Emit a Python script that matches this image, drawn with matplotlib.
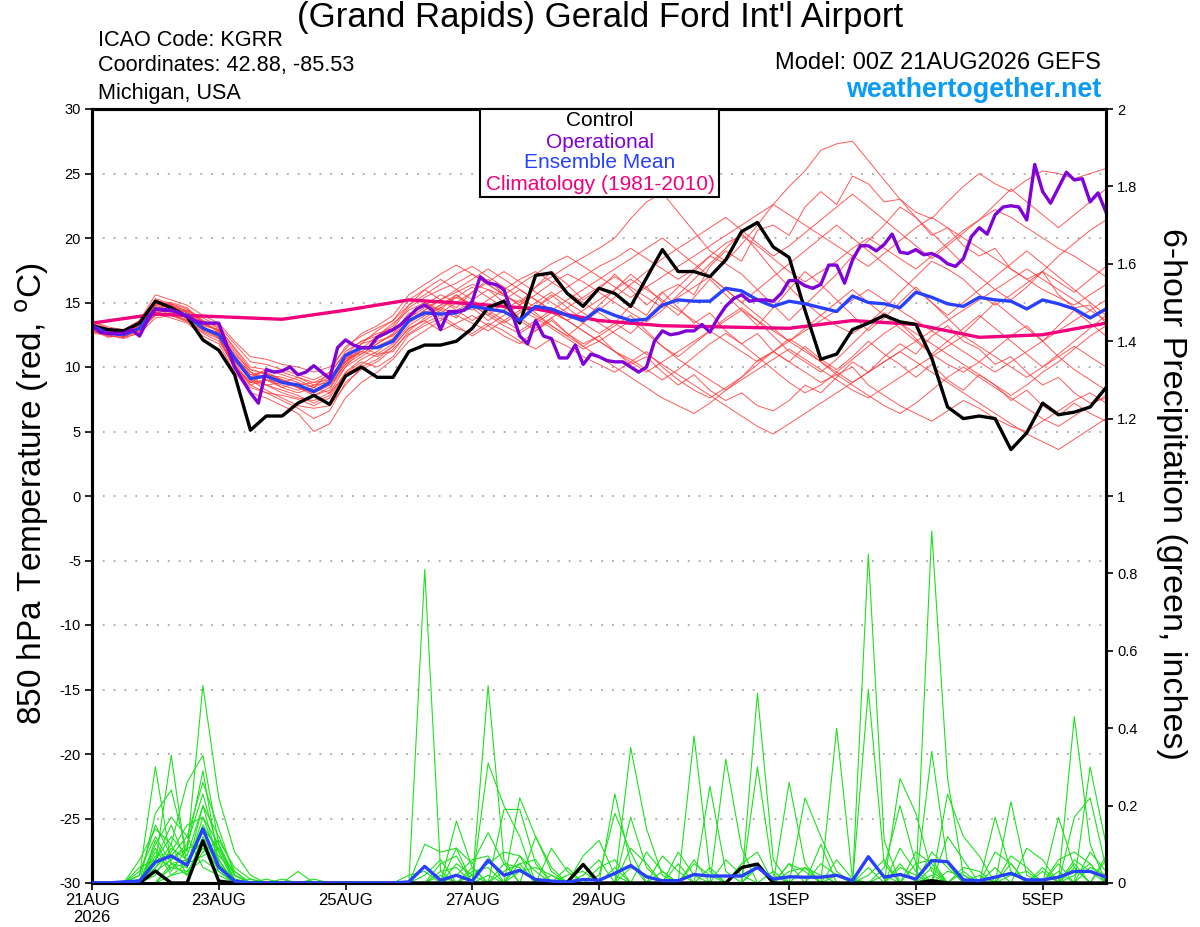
# gefs_meteogram_kgrr.py
# Usage: python gefs_meteogram_kgrr.py

import numpy as np
import matplotlib
matplotlib.use("Agg")
import matplotlib.pyplot as plt
from matplotlib.patches import Rectangle
from matplotlib.ticker import FixedLocator, FixedFormatter

# =========================================================
# DATA (6-hourly from 00Z 21AUG, i = 0..64; operational 3-hourly)
# =========================================================
control_t = [13.2, 12.9, 12.8, 13.4, 15.1, 14.6, 13.9, 12.1, 11.3,
             9.4, 5.1, 6.2, 6.2, 7.2, 7.8, 7.1, 9.3, 10.0, 9.2, 9.2,
             11.2, 11.7, 11.7, 12.0, 13.0, 14.6, 15.1, 13.4, 17.1, 17.3, 15.7, 14.7, 16.1,
             15.7, 14.7, 16.9, 19.1, 17.4, 17.4, 17.0, 18.3, 20.5, 21.2, 19.3, 18.5,
             14.4, 10.6, 11.0, 12.9, 13.4, 14.0, 13.5, 13.3, 10.7, 6.9, 6.0, 6.2,
             6.0, 3.6, 4.9, 7.2, 6.3, 6.5, 6.9, 8.4]

mean_t = [13.2, 12.6, 12.5, 13.0, 14.5, 14.4, 14.0, 13.0, 12.5,
          10.7, 9.1, 9.3, 8.8, 8.6, 8.1, 8.8, 10.9, 11.5, 11.5, 12.0,
          13.6, 14.2, 14.1, 14.2, 14.7, 14.5, 14.3, 13.6, 14.7, 14.5, 14.0, 13.6, 14.5,
          14.0, 13.6, 13.7, 14.8, 15.2, 15.1, 15.1, 16.1, 15.9, 15.2, 14.7, 15.1,
          14.9, 14.6, 14.3, 15.5, 15.0, 14.9, 14.6, 15.8, 15.4, 14.9, 14.7, 15.4,
          15.2, 15.1, 14.5, 15.2, 14.9, 14.5, 13.8, 14.5]

oper_t = [13.2, 12.7, 12.6, 12.6, 12.6, 12.9, 12.4, 13.6, 14.5, 14.4,
          14.4, 14.2, 13.9, 13.6, 13.4, 13.4, 13.4, 11.7, 10.0, 9.0,
          8.0, 7.2, 9.8, 9.6, 9.7, 10.0, 9.4, 9.6, 10.1, 9.6,
          9.1, 11.5, 12.1, 11.7, 11.5, 11.5, 12.3, 12.6, 12.9, 13.3,
          13.9, 14.5, 14.8, 14.4, 12.9, 14.3, 14.3, 14.4, 15.1, 17.0,
          16.5, 16.4, 16.0, 14.2, 12.4, 11.8, 13.6, 12.4, 12.2, 10.7,
          10.7, 11.7, 10.2, 11.0, 10.8, 10.5, 10.4, 10.4, 10.0, 9.6,
          10.0, 12.0, 12.8, 12.5, 12.6, 12.8, 12.8, 13.3, 12.7, 13.8,
          14.7, 15.3, 15.6, 15.1, 15.2, 15.2, 15.1, 15.7, 16.7, 16.7,
          16.3, 16.1, 16.4, 17.9, 17.9, 16.5, 18.3, 19.4, 19.4, 19.0,
          19.5, 20.3, 18.9, 18.8, 19.1, 18.7, 18.8, 18.5, 18.0, 17.8,
          18.4, 20.1, 20.8, 20.3, 21.8, 22.4, 22.5, 22.4, 21.4, 25.7,
          23.6, 22.7, 23.9, 25.1, 24.5, 24.6, 22.8, 23.5, 22.0]

clim_days = [0, 1, 2, 3, 4, 5, 6, 7, 8, 9, 10, 11, 12, 13, 14, 15, 16]
clim_t = [13.4, 14.1, 13.9, 13.7, 14.4, 15.2, 14.9, 14.5, 13.6,
          13.2, 13.1, 13.0, 13.6, 13.3, 12.3, 12.5, 13.4]

# ensemble members, 850 hPa temperature
t_m01 = [13.0, 12.8, 12.4, 13.3, 15.0, 14.7, 14.2, 13.5, 12.8,
         11.0, 9.8, 9.5, 9.0, 8.4, 8.0, 8.6, 10.2, 11.0, 11.8, 12.5,
         13.8, 14.6, 15.2, 15.8, 16.4, 16.0, 15.5, 15.0, 16.2, 17.0, 17.8, 18.5, 19.2,
         20.0, 21.5, 22.8, 23.5, 22.0, 20.5, 19.0, 18.2, 19.5, 21.0, 22.6, 24.0, 25.2, 26.8, 27.3,
         27.5, 26.0, 24.5, 23.0, 22.0, 21.5, 22.8, 24.0, 25.0, 24.2, 23.6, 24.5, 25.2, 25.0, 24.6, 25.0, 25.4]
t_m02 = [13.4, 12.9, 12.7, 12.8, 14.2, 14.8, 14.3, 13.2, 12.2,
         10.2, 8.6, 8.0, 7.8, 7.5, 7.0, 7.6, 9.5, 10.4, 10.0, 10.8,
         12.5, 13.2, 13.8, 13.0, 12.6, 13.4, 12.8, 12.0, 11.4, 12.2, 11.6, 10.8, 10.2,
         9.6, 10.4, 11.2, 10.0, 9.0, 8.2, 7.6, 8.4, 9.2, 10.5, 11.2, 10.4, 9.6, 8.8, 9.4,
         10.0, 8.6, 7.8, 7.0, 6.4, 5.8, 6.6, 7.4, 6.8, 6.0, 5.4, 5.0, 5.8, 6.6, 7.4, 8.0, 7.2]
t_m03 = [13.1, 12.5, 12.6, 13.5, 15.3, 14.9, 14.5, 13.6, 13.0,
         11.5, 10.0, 9.8, 9.6, 9.2, 8.8, 9.4, 11.2, 12.0, 12.6, 13.0,
         14.6, 15.4, 16.0, 16.5, 17.2, 16.4, 15.6, 14.8, 15.6, 16.5, 17.2, 16.6, 15.8,
         15.0, 14.2, 13.5, 14.4, 15.6, 16.8, 18.0, 19.2, 20.4, 19.0, 17.5, 16.2, 15.0, 14.0, 13.2,
         12.6, 13.4, 14.5, 15.8, 17.0, 18.2, 17.6, 16.8, 15.6, 14.8, 15.6, 16.5, 17.4, 16.6, 15.8, 16.8, 17.8]
t_m04 = [12.8, 12.4, 12.3, 12.9, 14.0, 14.1, 13.6, 12.6, 12.0,
         10.0, 8.8, 9.0, 8.4, 8.8, 7.8, 8.2, 10.6, 11.2, 10.8, 11.6,
         13.0, 13.6, 12.8, 13.4, 14.0, 13.2, 12.4, 11.8, 12.8, 13.6, 12.6, 11.6, 12.4,
         13.2, 14.0, 12.8, 11.6, 10.8, 11.8, 12.8, 13.8, 14.6, 13.6, 12.4, 11.2, 10.4, 9.6, 10.6,
         11.8, 13.0, 14.2, 13.4, 12.2, 11.0, 10.2, 9.6, 10.4, 11.4, 12.4, 13.2, 12.0, 10.8, 9.8, 9.0, 8.2]
t_m05 = [13.5, 13.0, 12.8, 13.2, 14.6, 14.2, 13.8, 13.0, 12.6,
         10.6, 9.4, 9.6, 9.0, 8.6, 8.8, 9.0, 10.4, 11.8, 12.2, 12.8,
         14.0, 14.8, 15.6, 15.0, 14.4, 15.2, 16.0, 16.8, 17.4, 16.6, 15.8, 15.0, 14.2,
         13.4, 12.6, 13.8, 15.0, 16.2, 17.4, 18.6, 18.0, 17.2, 16.0, 14.8, 13.6, 14.8, 16.0, 17.2,
         18.6, 19.8, 21.0, 22.4, 21.6, 20.4, 19.2, 18.0, 17.0, 16.0, 15.2, 16.2, 17.4, 18.6, 19.6, 20.6, 21.4]
t_m06 = [13.0, 12.7, 12.6, 13.1, 14.8, 15.0, 14.6, 13.4, 12.8,
         10.8, 9.0, 8.6, 8.2, 7.8, 7.2, 7.8, 9.6, 10.6, 11.2, 12.2,
         13.4, 14.2, 14.8, 15.4, 14.8, 14.0, 13.2, 12.6, 13.4, 14.2, 13.6, 12.8, 12.0,
         11.2, 10.6, 9.8, 9.0, 9.8, 10.8, 11.8, 12.6, 11.8, 10.8, 9.8, 8.8, 8.0, 8.6, 9.6,
         10.6, 11.6, 12.6, 13.4, 12.6, 11.8, 11.0, 10.2, 9.4, 8.6, 7.8, 8.6, 9.6, 10.4, 11.4, 12.4, 13.2]
t_m07 = [13.3, 12.6, 12.4, 12.8, 14.4, 14.6, 14.4, 13.8, 13.2,
         11.8, 10.4, 10.2, 9.8, 9.4, 9.0, 9.6, 11.0, 12.0, 12.4, 13.2,
         14.8, 15.6, 16.4, 17.2, 17.8, 17.0, 16.2, 15.4, 14.6, 15.4, 16.2, 17.0, 17.8,
         18.4, 19.2, 18.4, 17.6, 16.8, 17.6, 18.6, 19.6, 20.2, 19.4, 18.4, 17.4, 16.6, 17.4, 18.2,
         19.2, 20.0, 19.2, 18.4, 17.6, 18.6, 19.6, 20.6, 21.4, 22.2, 21.6, 20.8, 20.0, 19.2, 18.6, 17.8, 17.0]
t_m08 = [12.9, 12.3, 12.5, 13.4, 14.9, 14.5, 13.9, 12.8, 12.3,
         9.8, 8.4, 8.0, 7.4, 6.8, 6.0, 6.6, 8.8, 9.8, 10.4, 11.4,
         12.6, 13.4, 14.0, 13.2, 12.4, 13.2, 14.0, 14.8, 14.0, 13.2, 12.4, 11.6, 10.8,
         10.0, 9.2, 8.4, 7.6, 7.0, 6.4, 7.2, 8.2, 9.2, 10.2, 11.2, 12.2, 11.4, 10.4, 9.4,
         8.6, 7.8, 7.0, 6.4, 7.2, 8.2, 9.2, 10.0, 9.2, 8.4, 7.6, 6.8, 6.0, 5.4, 6.2, 7.0, 7.8]
t_m09 = [13.2, 12.8, 12.9, 13.6, 15.6, 15.2, 14.8, 14.0, 13.4,
         12.0, 10.8, 10.6, 10.2, 10.0, 9.6, 10.0, 11.4, 12.6, 13.2, 14.0,
         15.6, 16.4, 17.2, 17.9, 17.2, 16.4, 15.6, 16.4, 17.2, 18.0, 18.6, 17.8, 17.0,
         16.2, 15.4, 16.2, 17.0, 17.8, 18.6, 19.4, 20.2, 21.0, 21.8, 22.6, 21.8, 21.0, 20.2, 19.4,
         18.6, 17.8, 18.8, 19.8, 20.8, 21.6, 20.8, 20.0, 19.2, 18.4, 17.6, 16.8, 16.0, 15.4, 14.8, 15.6, 16.4]
t_m10 = [13.1, 12.5, 12.2, 12.7, 14.1, 13.8, 13.4, 12.4, 11.8,
         9.6, 8.0, 7.6, 7.0, 6.4, 5.0, 5.6, 7.6, 8.8, 9.6, 10.6,
         12.0, 12.8, 13.6, 14.4, 15.0, 14.2, 13.4, 14.2, 15.0, 15.8, 15.0, 14.2, 13.4,
         12.6, 11.8, 11.0, 10.2, 9.4, 8.6, 7.8, 7.0, 6.2, 5.4, 4.8, 5.6, 6.4, 7.2, 8.0,
         8.8, 9.6, 10.4, 11.2, 10.4, 9.6, 8.8, 8.0, 7.2, 6.4, 5.6, 4.8, 4.2, 3.6, 4.4, 5.2, 6.0]
t_m11 = [13.4, 12.7, 12.6, 13.0, 14.3, 14.0, 13.7, 13.0, 12.7,
         10.4, 9.2, 9.8, 9.4, 9.0, 8.4, 8.0, 10.0, 11.4, 11.6, 12.0,
         13.8, 15.0, 14.4, 13.8, 15.2, 16.0, 15.0, 13.8, 14.6, 15.6, 14.6, 13.6, 14.8,
         16.0, 17.2, 16.2, 15.0, 14.0, 15.4, 16.8, 15.6, 14.4, 13.2, 14.6, 16.0, 17.4, 16.4, 15.2,
         14.0, 12.8, 13.8, 15.0, 16.2, 15.0, 13.8, 12.6, 13.8, 15.0, 14.0, 13.0, 12.0, 13.2, 14.4, 13.4, 12.4]
t_m12 = [12.7, 12.6, 12.7, 13.2, 14.7, 14.3, 14.1, 13.3, 12.9,
         11.2, 9.6, 9.0, 8.6, 8.2, 8.6, 9.2, 10.8, 11.0, 11.8, 12.6,
         14.2, 14.0, 14.8, 15.6, 14.6, 13.6, 14.4, 15.2, 14.2, 13.2, 12.4, 13.4, 14.4,
         15.4, 16.4, 17.4, 18.4, 19.2, 20.0, 20.8, 21.6, 20.6, 19.6, 18.6, 19.4, 20.4, 21.4, 22.4,
         23.4, 22.4, 21.4, 20.4, 19.4, 18.4, 19.4, 20.4, 21.4, 22.6, 23.8, 22.8, 21.8, 20.8, 21.8, 22.8, 23.8]
t_m13 = [13.0, 12.9, 12.8, 13.6, 15.2, 14.8, 14.0, 12.9, 12.4,
         10.0, 8.8, 8.6, 8.0, 7.6, 7.4, 8.0, 9.4, 10.2, 11.0, 11.8,
         13.2, 14.0, 14.6, 14.0, 13.4, 12.8, 13.6, 14.4, 13.8, 13.0, 12.2, 11.4, 12.0,
         12.8, 13.6, 12.6, 11.6, 10.6, 9.8, 9.0, 8.2, 9.0, 9.8, 10.6, 11.4, 10.6, 9.8, 9.0,
         8.2, 7.6, 8.4, 9.2, 10.0, 10.8, 11.6, 12.4, 11.6, 10.8, 10.0, 9.2, 10.0, 10.8, 11.6, 10.8, 10.0]
t_m14 = [13.2, 12.4, 12.3, 12.6, 13.8, 14.0, 13.5, 12.9, 12.6,
         10.9, 9.4, 9.2, 9.0, 8.4, 8.0, 8.6, 10.2, 11.6, 11.0, 11.2,
         12.8, 13.8, 14.6, 15.4, 16.2, 15.4, 14.6, 13.8, 13.0, 13.8, 14.6, 15.4, 16.2,
         17.0, 16.2, 15.4, 14.6, 15.4, 16.2, 17.0, 16.0, 15.0, 14.0, 13.0, 12.0, 13.0, 14.0, 15.0,
         16.0, 15.0, 14.0, 13.0, 12.0, 11.0, 12.0, 13.0, 14.0, 13.0, 12.0, 11.0, 10.0, 11.0, 12.0, 13.0, 14.0]
t_m15 = [13.6, 13.1, 12.9, 13.4, 15.0, 14.6, 14.2, 13.6, 13.1,
         11.4, 9.8, 9.4, 9.2, 8.8, 8.4, 9.6, 11.6, 12.4, 13.0, 13.6,
         15.2, 16.0, 16.8, 16.0, 15.2, 14.4, 13.6, 12.8, 13.6, 14.4, 15.2, 16.0, 16.8,
         17.6, 18.4, 19.2, 20.0, 19.0, 18.0, 17.0, 16.0, 15.0, 16.0, 17.0, 18.0, 19.0, 20.0, 21.0,
         20.0, 19.0, 18.0, 17.0, 16.0, 15.0, 14.0, 15.0, 16.0, 17.0, 18.0, 19.0, 18.0, 17.0, 16.0, 15.0, 14.0]
t_m16 = [12.9, 12.6, 12.4, 13.0, 14.5, 14.9, 14.3, 13.1, 12.5,
         10.3, 8.8, 9.4, 9.0, 8.6, 8.2, 8.8, 10.4, 11.2, 12.0, 12.4,
         13.6, 14.4, 15.2, 14.4, 13.6, 14.4, 15.2, 16.0, 15.2, 14.4, 13.6, 12.8, 12.0,
         11.2, 10.4, 9.6, 10.4, 11.2, 12.0, 12.8, 13.6, 14.4, 13.6, 12.8, 12.0, 11.2, 10.4, 9.6,
         8.8, 9.6, 10.4, 11.2, 12.0, 12.8, 13.6, 14.4, 15.2, 16.0, 16.8, 17.6, 16.8, 16.0, 15.2, 14.4, 13.6]
t_m17 = [13.3, 12.8, 12.7, 13.3, 14.2, 14.5, 14.0, 13.2, 12.9,
         10.6, 9.2, 8.6, 8.8, 8.4, 7.8, 8.4, 10.0, 10.8, 11.6, 12.2,
         13.6, 14.4, 15.2, 16.0, 16.8, 17.6, 16.8, 16.0, 15.2, 14.4, 13.6, 14.4, 15.2,
         16.0, 16.8, 16.0, 15.2, 14.4, 13.6, 12.8, 12.0, 11.2, 10.4, 11.2, 12.0, 12.8, 13.6, 14.4,
         15.2, 16.0, 15.2, 14.4, 13.6, 12.8, 12.0, 11.2, 10.4, 9.6, 10.4, 11.2, 12.0, 12.8, 13.6, 14.4, 15.2]
t_m18 = [13.1, 12.6, 12.6, 13.1, 14.8, 14.4, 13.9, 13.1, 12.6,
         10.8, 9.6, 9.2, 8.4, 8.0, 8.4, 9.0, 10.4, 11.4, 12.4, 13.4,
         14.4, 15.0, 14.2, 15.0, 15.8, 16.6, 17.4, 16.6, 15.8, 15.0, 14.2, 13.4, 12.6,
         13.4, 14.8, 14.0, 15.8, 16.4, 15.6, 17.8, 19.0, 18.2, 20.6, 21.0, 20.2, 22.4, 23.6, 22.6,
         24.8, 24.2, 22.8, 23.0, 21.6, 20.2, 20.8, 19.4, 18.6, 19.2, 17.6, 16.8, 17.4, 15.6, 14.6, 14.8, 13.4]
t_m19 = [12.6, 12.5, 12.6, 13.0, 14.0, 14.2, 14.4, 13.5, 12.7,
         10.5, 9.0, 8.2, 7.6, 7.0, 6.8, 7.0, 8.6, 10.0, 10.6, 11.6,
         13.0, 13.6, 14.4, 15.6, 14.8, 14.0, 15.0, 13.6, 12.8, 13.8, 12.6, 11.8, 12.4,
         11.2, 10.2, 10.8, 9.6, 8.6, 9.4, 8.2, 7.4, 8.0, 7.0, 6.6, 7.4, 8.6, 8.0, 9.2,
         10.4, 9.6, 10.8, 11.8, 11.0, 12.4, 13.2, 12.0, 11.4, 10.2, 10.8, 9.6, 8.6, 9.2, 8.0, 7.2, 7.6]
t_m20 = [13.2, 12.9, 12.3, 12.9, 14.6, 14.0, 13.6, 12.7, 12.2,
         9.9, 8.6, 9.0, 8.8, 9.2, 8.6, 8.8, 10.6, 11.8, 12.8, 13.6,
         14.8, 16.0, 15.2, 14.6, 15.8, 16.8, 15.6, 14.8, 16.2, 17.4, 16.4, 15.2, 16.0,
         17.2, 16.0, 14.8, 15.8, 14.6, 13.4, 14.2, 12.8, 11.8, 12.6, 11.2, 10.4, 11.6, 10.6, 9.8,
         10.8, 12.0, 11.0, 10.2, 9.2, 10.2, 9.0, 8.2, 9.4, 8.6, 7.4, 8.2, 7.0, 6.2, 7.2, 6.4, 5.8]

# 6-hour precipitation (inches): control and mean, 65 values
control_p = [0, 0, 0, 0, 0.031, 0, 0, 0.109, 0.005, 0, 0, 0, 0, 0, 0, 0,
             0, 0, 0, 0, 0, 0, 0, 0, 0, 0, 0, 0, 0, 0, 0.002, 0.048, 0,
             0, 0, 0, 0, 0, 0, 0, 0, 0.040, 0.049, 0, 0, 0, 0, 0, 0,
             0, 0, 0, 0, 0.006, 0, 0, 0, 0, 0, 0, 0, 0, 0, 0, 0]
mean_p = [0, 0, 0.003, 0.005, 0.054, 0.070, 0.046, 0.140, 0.041, 0.005, 0, 0, 0, 0, 0, 0,
          0, 0, 0, 0, 0.003, 0.043, 0.007, 0.020, 0.005, 0.059, 0.020, 0.033, 0.009, 0.005, 0.002, 0.009, 0.007,
          0.025, 0.045, 0.016, 0.006, 0.006, 0.022, 0.018, 0.018, 0.018, 0.040, 0.010, 0.016, 0.015, 0.015, 0.020,
          0.006, 0.068, 0.015, 0.022, 0.010, 0.058, 0.055, 0.008, 0.006, 0.015, 0.025, 0.008, 0.008, 0.015, 0.030,
          0.030, 0.015]

# ensemble members, precipitation: {step index: inches}, zero elsewhere
p_m01 = {3: 0.02, 4: 0.30, 5: 0.05, 6: 0.02, 7: 0.12, 8: 0.04, 21: 0.81, 22: 0.03, 27: 0.05,
         33: 0.23, 34: 0.05, 42: 0.05, 49: 0.85, 50: 0.11, 53: 0.02, 62: 0.43, 63: 0.10}
p_m02 = {4: 0.05, 5: 0.33, 6: 0.04, 7: 0.20, 8: 0.05, 25: 0.51, 26: 0.06, 38: 0.38, 39: 0.03,
         53: 0.91, 54: 0.27, 55: 0.02, 58: 0.05}
p_m03 = {4: 0.18, 5: 0.24, 6: 0.08, 7: 0.51, 8: 0.22, 9: 0.08, 10: 0.02, 23: 0.16, 24: 0.04,
         34: 0.35, 35: 0.14, 36: 0.02, 47: 0.40, 48: 0.01, 51: 0.05, 63: 0.30, 64: 0.10}
p_m04 = {3: 0.06, 4: 0.14, 5: 0.10, 6: 0.26, 7: 0.33, 8: 0.10, 25: 0.31, 26: 0.20, 27: 0.12,
         42: 0.49, 43: 0.06, 49: 0.50, 50: 0.05, 57: 0.17, 58: 0.03}
p_m05 = {4: 0.10, 5: 0.17, 6: 0.12, 7: 0.26, 8: 0.14, 9: 0.02, 27: 0.22, 28: 0.12, 29: 0.03,
         40: 0.32, 41: 0.09, 44: 0.26, 45: 0.05, 53: 0.34, 54: 0.05, 61: 0.17, 62: 0.04}
p_m06 = {4: 0.08, 5: 0.06, 6: 0.10, 7: 0.23, 8: 0.08, 21: 0.10, 22: 0.08, 23: 0.09, 26: 0.19,
         27: 0.19, 28: 0.05, 39: 0.25, 40: 0.03, 51: 0.27, 52: 0.18, 53: 0.03, 62: 0.17, 63: 0.22, 64: 0.04}
p_m07 = {3: 0.01, 4: 0.06, 5: 0.12, 6: 0.07, 7: 0.20, 8: 0.12, 9: 0.03, 13: 0.03, 23: 0.09,
         24: 0.05, 25: 0.13, 26: 0.05, 31: 0.07, 32: 0.11, 33: 0.02, 45: 0.22, 46: 0.12, 47: 0.03,
         54: 0.23, 55: 0.12, 56: 0.07}
p_m08 = {4: 0.04, 5: 0.08, 6: 0.15, 7: 0.17, 8: 0.06, 11: 0.01, 22: 0.05, 23: 0.07, 29: 0.09,
         30: 0.03, 34: 0.17, 35: 0.04, 46: 0.05, 47: 0.02, 59: 0.09, 60: 0.06, 64: 0.07}
p_m09 = {5: 0.04, 6: 0.05, 7: 0.14, 8: 0.09, 9: 0.02, 24: 0.02, 25: 0.05, 26: 0.08, 27: 0.07,
         32: 0.02, 33: 0.18, 34: 0.08, 37: 0.08, 38: 0.02, 50: 0.04, 51: 0.20, 52: 0.05, 58: 0.21, 59: 0.02}
p_m10 = {4: 0.03, 5: 0.06, 6: 0.09, 7: 0.10, 8: 0.07, 9: 0.03, 21: 0.02, 22: 0.06, 24: 0.04,
         28: 0.12, 29: 0.04, 36: 0.07, 37: 0.03, 44: 0.05, 45: 0.03, 52: 0.05, 53: 0.06, 57: 0.04, 62: 0.05}
p_m11 = {3: 0.03, 4: 0.12, 5: 0.05, 6: 0.04, 7: 0.17, 8: 0.10, 9: 0.02, 23: 0.02, 24: 0.06,
         25: 0.07, 35: 0.08, 36: 0.03, 42: 0.30, 43: 0.02, 49: 0.02, 50: 0.06, 55: 0.04, 56: 0.03,
         61: 0.06, 62: 0.08, 63: 0.05}
p_m12 = {4: 0.02, 5: 0.09, 6: 0.06, 7: 0.13, 8: 0.06, 10: 0.01, 27: 0.03, 28: 0.04, 29: 0.02,
         32: 0.04, 33: 0.06, 41: 0.05, 42: 0.08, 47: 0.06, 48: 0.01, 54: 0.12, 55: 0.06, 60: 0.04,
         63: 0.04, 64: 0.02}
p_m13 = {4: 0.07, 5: 0.04, 6: 0.03, 7: 0.06, 8: 0.03, 14: 0.01, 26: 0.05, 27: 0.04, 30: 0.02,
         31: 0.03, 38: 0.05, 39: 0.02, 46: 0.10, 52: 0.08, 53: 0.05, 57: 0.08, 58: 0.05}
p_m14 = {5: 0.02, 6: 0.03, 7: 0.09, 8: 0.04, 22: 0.03, 23: 0.04, 34: 0.09, 35: 0.05, 44: 0.03,
         45: 0.04, 54: 0.03, 55: 0.02, 58: 0.02, 59: 0.03, 62: 0.02, 63: 0.05}
p_m15 = {4: 0.09, 5: 0.02, 6: 0.05, 7: 0.07, 8: 0.09, 9: 0.01, 20: 0.02, 21: 0.03, 29: 0.02,
         31: 0.02, 32: 0.06, 40: 0.06, 41: 0.02, 49: 0.04, 56: 0.02, 61: 0.03, 64: 0.06}
p_m16 = {3: 0.02, 4: 0.15, 5: 0.07, 6: 0.12, 7: 0.04, 8: 0.02, 24: 0.03, 25: 0.04, 33: 0.04,
         37: 0.05, 43: 0.03, 51: 0.04, 52: 0.02, 58: 0.07, 59: 0.04}
p_m17 = {4: 0.04, 5: 0.10, 6: 0.02, 7: 0.08, 8: 0.11, 9: 0.04, 10: 0.01, 26: 0.03, 27: 0.05,
         28: 0.06, 36: 0.03, 45: 0.04, 46: 0.02, 53: 0.04, 60: 0.03, 62: 0.04}
p_m18 = {5: 0.05, 6: 0.06, 7: 0.11, 8: 0.03, 12: 0.01, 22: 0.02, 25: 0.02, 30: 0.04, 39: 0.04,
         47: 0.02, 50: 0.02, 55: 0.03, 63: 0.08, 64: 0.03}
p_m19 = {4: 0.11, 5: 0.03, 6: 0.09, 7: 0.29, 8: 0.05, 9: 0.01, 23: 0.05, 24: 0.02, 34: 0.04,
         35: 0.02, 42: 0.04, 51: 0.09, 52: 0.03, 61: 0.05}
p_m20 = {3: 0.04, 4: 0.06, 5: 0.15, 6: 0.05, 7: 0.15, 8: 0.08, 9: 0.01, 27: 0.07, 28: 0.03,
         38: 0.06, 44: 0.05, 53: 0.08, 54: 0.04, 62: 0.06, 63: 0.03}

temp_members = [t_m01, t_m02, t_m03, t_m04, t_m05, t_m06, t_m07, t_m08, t_m09, t_m10,
                t_m11, t_m12, t_m13, t_m14, t_m15, t_m16, t_m17, t_m18, t_m19, t_m20]
precip_members = [p_m01, p_m02, p_m03, p_m04, p_m05, p_m06, p_m07, p_m08, p_m09, p_m10,
                  p_m11, p_m12, p_m13, p_m14, p_m15, p_m16, p_m17, p_m18, p_m19, p_m20]

date_ticks = [0, 2, 4, 6, 8, 11, 13, 15]
date_labels = ["21AUG\n2026", "23AUG", "25AUG", "27AUG", "29AUG", "1SEP", "3SEP", "5SEP"]
temp_ticks = [30, 25, 20, 15, 10, 5, 0, -5, -10, -15, -20, -25, -30]
precip_ticks = [0, 0.2, 0.4, 0.6, 0.8, 1.0, 1.2, 1.4, 1.6, 1.8, 2.0]
precip_labels = ["0", "0.2", "0.4", "0.6", "0.8", "1", "1.2", "1.4", "1.6", "1.8", "2"]

# =========================================================
# STYLE
# =========================================================
plt.rcParams["font.family"] = ["Liberation Sans", "DejaVu Sans"]

C_RED = "#ff3c3c"
C_GREEN = "#1ee01e"
C_CTRL = "black"
C_OPER = "#8000d8"
C_MEAN = "#2840ff"
C_CLIM = "#f0007c"

W, H = 1200, 927
fig = plt.figure(figsize=(W / 100, H / 100), dpi=100)

def fx(px):
    return px / W

def fy(py):
    return 1 - py / H

ax = fig.add_axes([fx(92), fy(883), fx(1106) - fx(92), fy(109) - fy(883)])
ax2 = ax.twinx()

n = len(mean_t)
for name, arr in [("control_t", control_t), ("mean_t", mean_t), ("control_p", control_p),
                  ("mean_p", mean_p)] + [("t_m%02d" % (k + 1), m) for k, m in enumerate(temp_members)]:
    assert len(arr) == n, (name, len(arr))
assert len(oper_t) == 2 * n - 1, len(oper_t)

days = np.arange(n) * 0.25
days_op = np.arange(len(oper_t)) * 0.125

# =========================================================
# TEMPERATURE
# =========================================================
for lev in [25, 20, 15, 10, 5, 0, -5, -10, -15, -20, -25]:
    ax.axhline(lev, color="#a8a8a8", lw=1.3, ls=(0, (1, 5)), zorder=0)

for m in temp_members:
    ax.plot(days, m, color=C_RED, lw=0.7, alpha=0.85, zorder=1)

ax.plot(clim_days, clim_t, color=C_CLIM, lw=2.4, zorder=3)
ax.plot(days, control_t, color=C_CTRL, lw=2.4, zorder=4)
ax.plot(days, mean_t, color=C_MEAN, lw=2.4, zorder=5)
ax.plot(days_op, oper_t, color=C_OPER, lw=2.4, zorder=6)

ax.set_xlim(0, 16)
ax.set_ylim(-30, 30)
ax.yaxis.set_major_locator(FixedLocator(temp_ticks))
ax.set_yticklabels([str(t) for t in temp_ticks])
ax.xaxis.set_major_locator(FixedLocator(date_ticks))
ax.xaxis.set_major_formatter(FixedFormatter(date_labels))

# =========================================================
# PRECIPITATION (right axis)
# =========================================================
for pm in precip_members:
    vals = np.zeros(n)
    for k, v in pm.items():
        vals[k] = v
    ax2.plot(days, vals, color=C_GREEN, lw=0.8, zorder=1)

ax2.plot(days, control_p, color=C_CTRL, lw=2.4, zorder=4)
ax2.plot(days, mean_p, color=C_MEAN, lw=2.4, zorder=5)
ax2.set_ylim(0, 2)
ax2.set_xlim(0, 16)
ax2.yaxis.set_major_locator(FixedLocator(precip_ticks))
ax2.yaxis.set_major_formatter(FixedFormatter(precip_labels))

for a in (ax, ax2):
    for sp in a.spines.values():
        sp.set_linewidth(2.2)
    a.tick_params(axis="both", direction="out", length=5, width=1.2, labelsize=10.5, pad=3)
ax.tick_params(axis="x", labelsize=12, pad=2)

# axis titles placed by pixel position
fig.text(fx(32), fy(494), "850 hPa Temperature (red, $^\\mathrm{o}$C)", rotation=90,
         ha="center", va="center", fontsize=24)
fig.text(fx(1172), fy(494), "6-hour Precipitation (green, inches)", rotation=-90,
         ha="center", va="center", fontsize=24.5)

# =========================================================
# HEADER + LEGEND
# =========================================================
fig.text(0.5, fy(18), "(Grand Rapids) Gerald Ford Int'l Airport", ha="center", va="center", fontsize=25)
fig.text(fx(98), fy(40), "ICAO Code: KGRR", ha="left", va="center", fontsize=15.6)
fig.text(fx(98), fy(66), "Coordinates: 42.88, -85.53", ha="left", va="center", fontsize=15.6)
fig.text(fx(98), fy(93), "Michigan, USA", ha="left", va="center", fontsize=15.6)
fig.text(fx(1101), fy(63), "Model: 00Z 21AUG2026 GEFS", ha="right", va="center", fontsize=17)
fig.text(fx(1101), fy(90), "weathertogether.net", ha="right", va="center", fontsize=19.4,
         fontweight="bold", color="#0a9cf5")

fig.patches.append(Rectangle((fx(480), fy(197)), fx(719) - fx(480), fy(109) - fy(197),
                             transform=fig.transFigure, fill=True, facecolor="white",
                             edgecolor="black", lw=1.5, zorder=10))
for txt, col, yy in [("Control", C_CTRL, 121), ("Operational", C_OPER, 142),
                     ("Ensemble Mean", C_MEAN, 163), ("Climatology (1981-2010)", C_CLIM, 185)]:
    fig.text(fx(600), fy(yy), txt, ha="center", va="center", fontsize=15, color=col, zorder=11)

fig.savefig("out.png", dpi=100)
